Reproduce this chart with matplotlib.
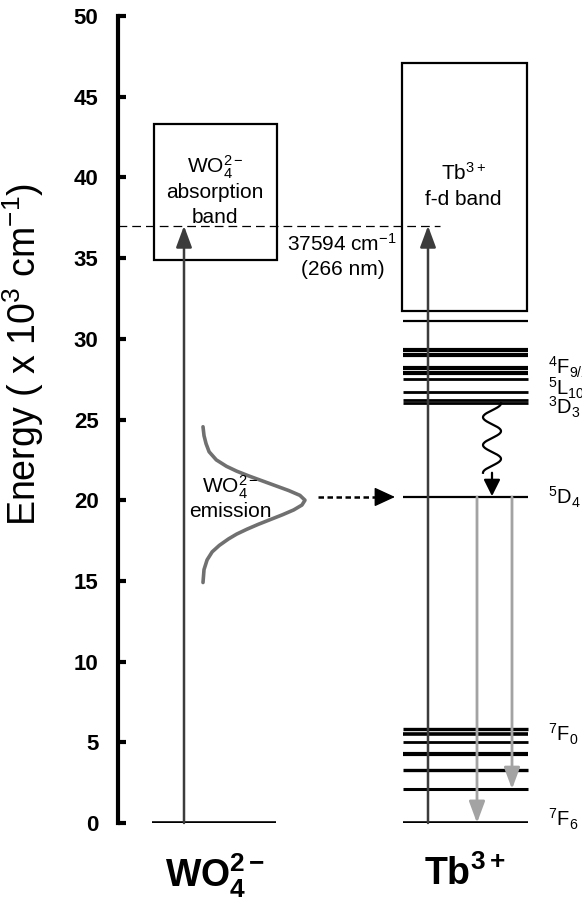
import numpy as np
import matplotlib
matplotlib.use("Agg")
import matplotlib.pyplot as plt
from matplotlib.patches import Rectangle

plt.rcParams["font.family"] = ["Liberation Sans", "DejaVu Sans"]
plt.rcParams["mathtext.fontset"] = "custom"
plt.rcParams["mathtext.rm"] = "Liberation Sans"
plt.rcParams["mathtext.it"] = "Liberation Sans:italic"
plt.rcParams["mathtext.bf"] = "Liberation Sans:bold"

# energies in 10^3 cm^-1
tb_levels = [0.0, 2.1, 3.3, 4.3, 5.0, 5.5, 5.8, 20.2,
             26.0, 26.2, 26.7, 27.5, 27.9, 28.2, 29.0, 29.3, 31.1]
tb_level_lw = [2.6, 2.2, 2.4, 3.0, 2.0, 2.6, 2.4, 1.6,
               2.0, 2.0, 2.0, 2.0, 3.0, 3.0, 3.0, 3.0, 1.6]
tb_band = (31.7, 47.1)
wo4_band = (34.9, 43.3)
excitation = 37.0
d4 = 20.2
emission_targets = [0.0, 2.1]

# WO4 emission profile (energy, relative intensity)
em_energy = [24.55, 24.0, 23.5, 23.0, 22.5, 22.1, 21.8, 21.5, 21.2, 20.9,
             20.6, 20.3, 20.0, 19.7, 19.4, 19.1, 18.8, 18.5, 18.2, 17.9,
             17.6, 17.2, 16.8, 16.3, 15.7, 14.9]
em_intensity = [0.0, 0.01, 0.03, 0.06, 0.13, 0.23, 0.33, 0.45, 0.58, 0.71,
                0.84, 0.95, 1.0, 0.97, 0.89, 0.78, 0.66, 0.54, 0.43, 0.33,
                0.25, 0.16, 0.09, 0.04, 0.01, 0.0]

level_labels = ["$^4$F$_{9/2}$", "$^5$L$_{10}$", "$^3$D$_3$",
                "$^5$D$_4$", "$^7$F$_0$", "$^7$F$_6$"]
level_label_y = [28.2, 26.95, 25.75, 20.2, 5.5, 0.2]

fig = plt.figure(figsize=(5.82, 8.97), dpi=100)
ax = fig.add_axes([118 / 582, 74 / 897, 1 - 118 / 582, 807 / 897])
ax.set_xlim(0, 464)
ax.set_ylim(0, 50)

for s in ["top", "right", "bottom"]:
    ax.spines[s].set_visible(False)
ax.spines["left"].set_linewidth(3.0)
ax.set_xticks([])
ax.set_yticks(np.arange(0, 51, 5))
ax.tick_params(axis="y", direction="in", length=6, width=3.0, pad=14,
               labelsize=16)
for lab in ax.get_yticklabels():
    lab.set_fontweight("bold")
ax.set_ylabel("Energy ( x 10$^3$ cm$^{-1}$)", fontsize=27)
ax.yaxis.set_label_coords(-0.155, 0.58)

dark = "#3c3c3c"
light = "#a3a3a3"

# WO4 side
ax.plot([34, 158], [0, 0], color="black", lw=2.6, solid_capstyle="butt")
ax.add_patch(Rectangle((36, wo4_band[0]), 123, wo4_band[1] - wo4_band[0],
                       fill=False, ec="black", lw=1.6))
ax.text(97, 40.6, "WO$_4^{2-}$", ha="center", va="center", fontsize=15)
ax.text(97, 39.05, "absorption", ha="center", va="center", fontsize=15)
ax.text(97, 37.5, "band", ha="center", va="center", fontsize=15)

x_em = [85 + 102 * v for v in em_intensity]
ax.plot(x_em, em_energy, color="#707070", lw=2.6, solid_capstyle="round")
ax.text(112, 20.8, "WO$_4^{2-}$", ha="center", va="center", fontsize=15)
ax.text(112, 19.3, "emission", ha="center", va="center", fontsize=15)

# Tb side
for e, w in zip(tb_levels, tb_level_lw):
    ax.plot([285, 410], [e, e], color="black", lw=w, solid_capstyle="butt")
ax.add_patch(Rectangle((284, tb_band[0]), 125, tb_band[1] - tb_band[0],
                       fill=False, ec="black", lw=1.6))
ax.text(345, 40.3, "Tb$^{3+}$", ha="center", va="center", fontsize=15)
ax.text(345, 38.6, "f-d band", ha="center", va="center", fontsize=15)

# excitation line
ax.plot([0, 322], [excitation, excitation], color="black", lw=0.9,
        dashes=(7, 4))
ax.text(224, 35.9, "37594 cm$^{-1}$", ha="center", va="center", fontsize=15)
ax.text(225, 34.3, "(266 nm)", ha="center", va="center", fontsize=15)


def arrow(x0, y0, x1, y1, color, lw, hl=0.65, hw=0.24):
    ax.annotate("", xy=(x1, y1), xytext=(x0, y0),
                arrowprops=dict(arrowstyle=f"-|>,head_length={hl},head_width={hw}",
                                color=color, lw=lw,
                                shrinkA=0, shrinkB=0, mutation_scale=20))


arrow(66, 0, 66, excitation, dark, 1.8)
arrow(310, 0, 310, excitation, dark, 1.8)
arrow(359, d4, 359, emission_targets[0], light, 2.0)
arrow(394, d4, 394, emission_targets[1], light, 2.0)

# energy transfer (dotted)
ax.plot([200, 262], [d4, d4], color="black", lw=1.8, dashes=(2.2, 1.4))
arrow(262, d4, 277, d4, "black", 1.0, hl=0.65, hw=0.3)

# non-radiative relaxation (wavy)
t = np.linspace(0, 1, 200)
wy = 26.0 - t * (26.0 - 21.7)
wx = 374 + 9 * np.sin(2 * np.pi * 2.5 * t + np.pi / 2)
ax.plot(wx, wy, color="black", lw=1.6)
arrow(374, 21.7, 374, d4 + 0.05, "black", 1.6, hl=0.5, hw=0.25)

for lab, y in zip(level_labels, level_label_y):
    ax.text(430, y, lab, ha="left", va="center", fontsize=14.5, clip_on=False)

ax.text(97, -3.25, "WO$_\\mathbf{4}^\\mathbf{2-}$", ha="center", va="center",
        fontsize=27, fontweight="bold", clip_on=False)
ax.text(347, -3.2, "Tb$^\\mathbf{3+}$", ha="center", va="center",
        fontsize=27, fontweight="bold", clip_on=False)

fig.savefig("out.png", dpi=100)
